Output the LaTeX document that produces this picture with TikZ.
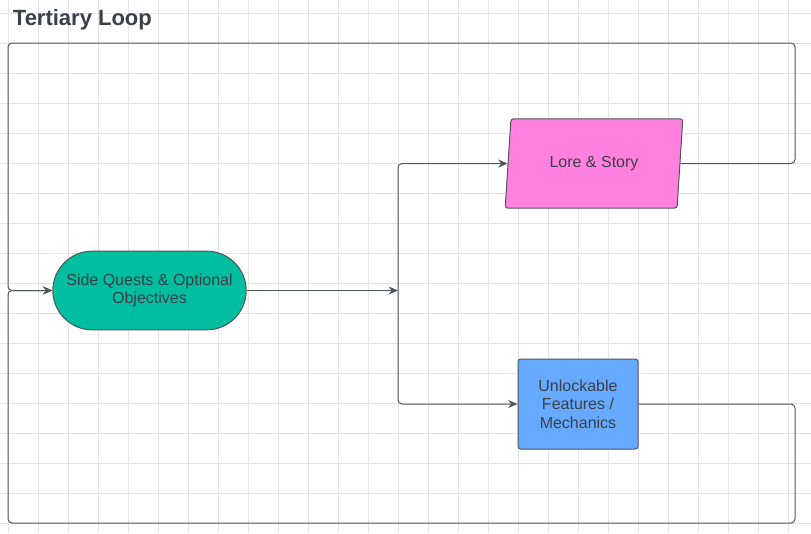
\documentclass[tikz,border=0pt]{standalone}
\usepackage{fontspec}
\setmainfont{Liberation Sans}
\usetikzlibrary{shapes.geometric,shapes.misc,arrows.meta}
\definecolor{gridgray}{RGB}{228,228,228}
\definecolor{linegray}{RGB}{80,84,92}
\definecolor{txtgray}{RGB}{60,64,72}
\definecolor{questteal}{RGB}{0,190,160}
\definecolor{lorepink}{RGB}{255,128,223}
\definecolor{skyblue}{RGB}{102,170,255}
\tikzset{every picture/.style={line width=0.75pt}}
\tikzset{
  box/.style={draw=linegray, text=txtgray, font=\fontsize{12}{14}\selectfont, align=center, inner sep=0pt},
  link/.style={draw=linegray, line width=0.75pt, rounded corners=3pt, -{Stealth[length=7pt,width=6pt]}},
}
\begin{document}
\begin{tikzpicture}[x=0.75pt,y=0.75pt,yscale=-1,xscale=1]
\useasboundingbox (0,0) rectangle (811,533);
%Grid
\foreach \gx in {8,38,...,811} \draw [gridgray, line width=0.5pt] (\gx,0) -- (\gx,533);
\foreach \gy in {13,43,...,533} \draw [gridgray, line width=0.5pt] (0,\gy) -- (811,\gy);

% Title
\node [anchor=west, text=txtgray, font=\fontsize{16.5}{18}\selectfont\bfseries] (title) at (8,20) {Tertiary Loop};

% Nodes
\node [box, rounded rectangle, fill=questteal, minimum width=145pt, minimum height=59pt] (quests) at (149.5,290.5) {Side Quests \& Optional\\Objectives};
\node [box, trapezium, trapezium left angle=78, trapezium right angle=102, trapezium stretches=true, fill=lorepink, minimum width=133.5pt, minimum height=67pt, rounded corners=2pt] (lore) at (594,163.5) {Lore \& Story};
\node [box, rectangle, fill=skyblue, minimum width=90pt, minimum height=67.5pt, rounded corners=2pt] (unlock) at (578,404) {Unlockable\\Features /\\Mechanics};

% Branch point
\coordinate (fork) at (398,290.5);
\coordinate (left) at (8,290.5);

% Connectors
\draw [link] (quests.east) -- (fork);
\draw [link] (fork) |- (lore.west);
\draw [link] (fork) |- (unlock.west);
\draw [link] (lore.east) -- (795,163.5) -- (795,43) -- (8,43) -- (left) -- (quests.west);
\draw [link] (unlock.east) -- (795,404) -- (795,523) -- (8,523) -- (left) -- (quests.west);

\end{tikzpicture}
\end{document}
